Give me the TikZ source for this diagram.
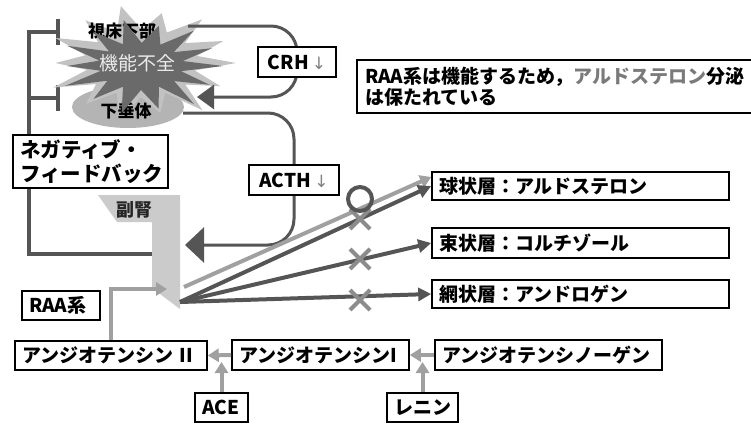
\documentclass[tikz,border=0pt]{standalone}
\usepackage{fontspec}
\setmainfont{Noto Sans CJK JP}
\newfontfamily\arrowfont{DejaVu Sans}
\usetikzlibrary{arrows.meta,shapes.geometric}
\definecolor{dk}{HTML}{555555}
\definecolor{lt}{HTML}{A0A0A0}
\definecolor{xg}{HTML}{8C8C8C}
\definecolor{starL}{HTML}{C2C2C2}
\definecolor{starD}{HTML}{6A6A6A}
\definecolor{pitc}{HTML}{B4B4B4}
\definecolor{adrc}{HTML}{CBCBCB}
\definecolor{notegray}{HTML}{7A7A7A}
\begin{document}
\begin{tikzpicture}[x=1pt,y=-1pt,
  every node/.style={font=\fontsize{19}{23}\selectfont\bfseries},
  box/.style={draw=black, line width=1.6pt, fill=white, inner xsep=7pt, inner ysep=0pt, align=left},
  cbox/.style={draw=black, line width=1.6pt, fill=white, inner sep=0pt, align=center},
  dline/.style={draw=dk, line width=3pt},
  fb/.style={draw=dk, line width=4.5pt},
  darr/.style={draw=dk, line width=4pt, -{Triangle[length=13pt,width=13pt]}},
  larr/.style={draw=lt, line width=4pt, -{Triangle[length=11pt,width=13pt]}},
  xmark/.style={draw=xg, line width=4pt},
  smalltxt/.style={font=\fontsize{17}{17}\selectfont\bfseries}]
\useasboundingbox (0,0) rectangle (751,423);
\fill[white] (0,0) rectangle (751,423);

% named points
\coordinate (fbT) at (60,32);
\coordinate (fbB) at (60,98);
\coordinate (fbC) at (29,32);
\coordinate (adrL) at (154,254);
\coordinate (hypR) at (188,26);
\coordinate (pitA) at (197,97);
\coordinate (crhC) at (297,62);
\coordinate (pitR) at (183,113);
\coordinate (acthC) at (294,180);
\coordinate (adrA) at (185,245);
\coordinate (adrT) at (180,302);
\coordinate (adrT2) at (184,287);
\coordinate (adrR) at (167,289);
\coordinate (j1) at (422.5,362);
\coordinate (j2) at (221.5,362);

% negative feedback
\draw[fb,-{Bar[width=26pt]}] (adrL) -| (fbC) -- (fbT);
\draw[fb,-{Bar[width=26pt]}] (fbB -| fbC) -- (fbB);

% pituitary ellipse
\node[ellipse, fill=pitc, minimum width=112pt, minimum height=42pt, inner sep=0pt] (pit) at (128,107) {};

% starburst (light)
\begin{scope}[shift={(141,63)}]
\fill[starL] (95,0) \foreach \a/\r [evaluate=\a as \px using {\r*95*cos(\a)}, evaluate=\a as \py using {\r*57*sin(\a)}] in
 {0/1.0, 13/0.58, 26/0.93, 39/0.6, 52/1.05, 64/0.58, 77/0.9, 90/0.6, 103/1.02, 116/0.58, 129/0.92, 142/0.6, 155/1.02, 168/0.58, 180/0.9, 193/0.6, 206/1.0, 219/0.58, 232/0.95, 245/0.6, 258/1.02, 271/0.58, 284/0.9, 297/0.6, 310/1.0, 323/0.58, 336/0.95, 348/0.6} {-- (\px,\py)} -- cycle;
\end{scope}

\node[smalltxt] (hyp) at (122,31) {視床下部};
\node[smalltxt] (pittxt) at (126,111) {下垂体};

% starburst (dark)
\begin{scope}[shift={(141,66)}]
\fill[starD] (82,0) \foreach \a/\r [evaluate=\a as \px using {\r*82*cos(\a)}, evaluate=\a as \py using {\r*46*sin(\a)}] in
 {0/1.0, 13/0.5, 26/0.93, 39/0.52, 52/1.05, 64/0.5, 77/0.95, 90/0.52, 103/1.05, 116/0.5, 129/0.92, 142/0.52, 155/1.02, 168/0.5, 180/0.9, 193/0.52, 206/1.0, 219/0.5, 232/0.95, 245/0.52, 258/1.02, 271/0.5, 284/0.9, 297/0.52, 310/1.0, 323/0.5, 336/0.95, 348/0.52} {-- (\px,\py)} -- cycle;
\end{scope}
\node[font=\fontsize{19}{19}\selectfont\mdseries, text=white!92!black] (kino) at (137,63) {機能不全};

% CRH and ACTH lines
\draw[dline, rounded corners=26pt, -{Triangle[length=17pt,width=24pt]}] (hypR) -- (hypR -| crhC) -- (pitA -| crhC) -- (pitA);
\draw[dline, rounded corners=26pt, -{Triangle[length=19pt,width=35pt]}] (pitR) -- (pitR -| acthC) -- (adrA -| acthC) -- (adrA);

% adrenal
\fill[adrc] (98,195) -- (180,195) -- (180,309) -- (152,288) -- (152,222) -- (117,222) -- cycle;
\node[font=\fontsize{18}{18}\selectfont\bfseries, text=black!85] (adr) at (134,210) {副腎};

% boxes
\node[cbox, minimum width=78pt, minimum height=30pt] (crh) at (crhC) {CRH\,{\arrowfont\mdseries\fontsize{17}{17}\selectfont\color{gray}↓}};
\node[cbox, minimum width=90pt, minimum height=30pt] (acth) at (acthC) {ACTH\,{\arrowfont\mdseries\fontsize{17}{17}\selectfont\color{gray}↓}};
\node[box, text width=141pt, minimum height=53pt, font=\fontsize{20.5}{24}\selectfont\bfseries] (neg) at (90.5,161.5) {ネガティブ・\\フィードバック};
\node[box, text width=382pt, minimum height=53pt, inner xsep=8pt, font=\fontsize{19}{21}\selectfont\bfseries] (note) at (556,86.5) {RAA系は機能するため，{\color{notegray}アルドステロン}分泌\\は保たれている};
\node[box, text width=283pt, minimum height=28pt] (glom) at (580.5,186) {球状層：アルドステロン};
\node[box, text width=283pt, minimum height=30pt] (fasc) at (580.5,243) {束状層：コルチゾール};
\node[box, text width=283pt, minimum height=28pt] (reti) at (580.5,294) {網状層：アンドロゲン};
\node[box, text width=213pt, minimum height=30pt] (agen) at (548.5,355) {アンジオテンシノーゲン};
\node[box, text width=163pt, minimum height=30pt] (ang1) at (320.5,355) {アンジオテンシンI};
\node[box, text width=178pt, minimum height=29pt] (ang2) at (111,355.5) {アンジオテンシン II};
\node[box, text width=39pt, minimum height=29pt, inner xsep=7pt] (ace) at (221.5,407.5) {ACE};
\node[box, text width=57pt, minimum height=29pt] (renin) at (422.5,407.5) {レニン};
\node[box, text width=64pt, minimum height=29pt] (raa) at (61,305.5) {RAA系};

% adrenal outputs
\draw[larr] (adrT2) -- ([yshift=9pt]glom.west);
\draw[darr] (adrT) -- (glom.west);
\draw[darr] (adrT) -- (fasc.west);
\draw[darr] (adrT) -- (reti.west);
\foreach \p in {(360,219),(360,259),(360,300)}
  \draw[xmark] \p +(-10,-10) -- +(10,10) \p +(-10,10) -- +(10,-10);
\draw[dk, line width=4pt] (360,199) circle[radius=12];

% RAA cascade
\draw[larr] (agen.west) -- (ang1.east);
\draw[larr] (renin.north) -- (j1);
\draw[larr] (ang1.west) -- (ang2.east);
\draw[larr] (ace.north) -- (j2);
\draw[larr] (ang2.north) |- (adrR);
\end{tikzpicture}
\end{document}
